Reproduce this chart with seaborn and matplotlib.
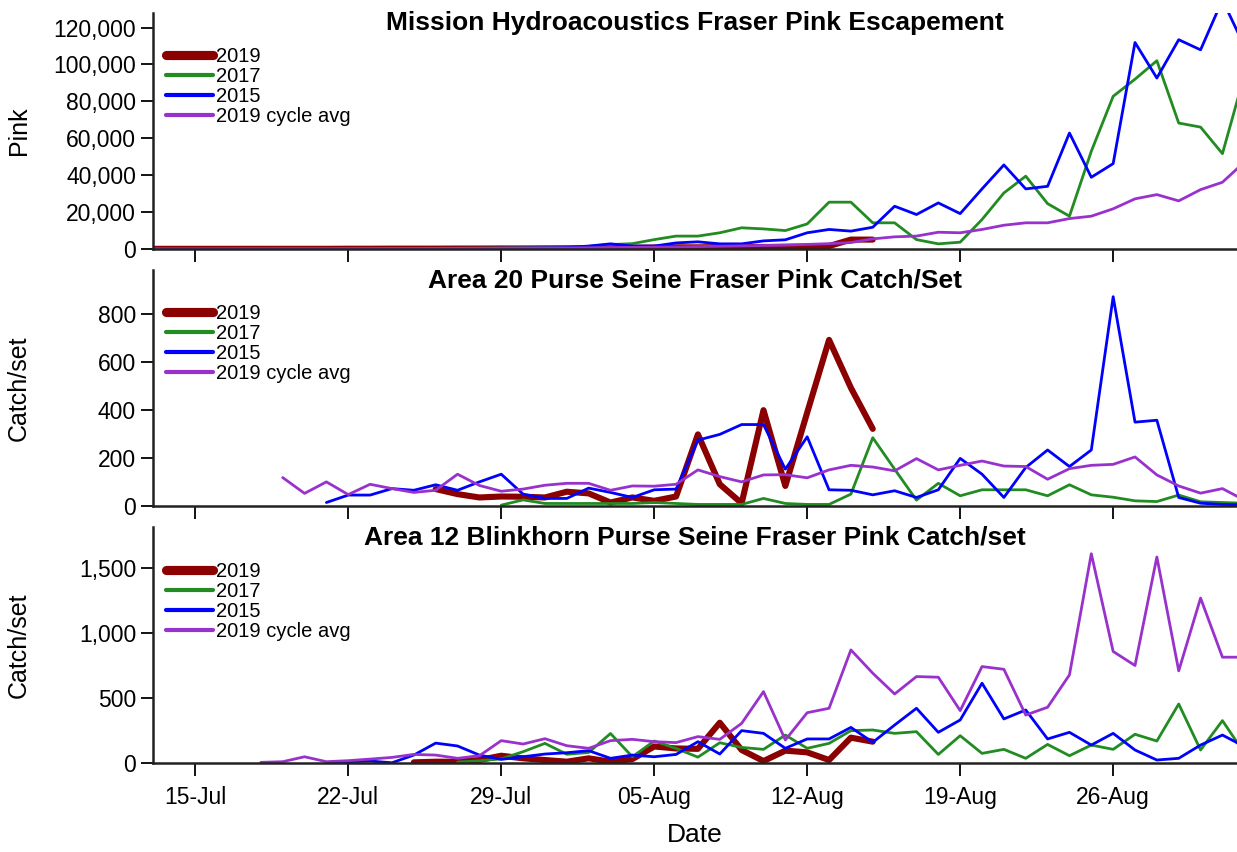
import numpy as np
import pandas as pd
import matplotlib
matplotlib.use("Agg")
import matplotlib.pyplot as plt
import matplotlib.dates as mdates
import matplotlib.ticker as mticker
import seaborn as sns

### Data ###

series_names = ["2019", "2017", "2015", "2019 cycle avg"]
series_colors = ["#8B0000", "#228B22", "#0000FF", "#9932CC"]
series_widths = [4.4, 2.0, 2.0, 2.0]

# Mission hydroacoustics escapement
esc_2019_start = "2019-07-13"
esc_2019 = [0, 0, 0, 0, 0, 0, 0, 0, 0, 50, 50, 100, 100, 100, 150, 150, 200, 200, 250,
            300, 400, 500, 600, 700, 800, 800, 900, 1000, 1000, 1100, 1200, 1500, 5000, 5000]
esc_2017_start = "2019-07-13"
esc_2017 = [0, 0, 0, 0, 0, 0, 0, 0, 50, 50, 100, 100, 150, 200, 250, 300, 400, 500, 600,
            800, 1300, 2300, 2800, 5000, 6900, 6900, 8700, 11400, 10800, 9900, 13500, 25300,
            25300, 14100, 14100, 5000, 2700, 3600, 15900, 30300, 39400, 24500, 17700, 52900,
            82700, 92000, 102000, 68200, 66000, 51600, 94000]
esc_2015_start = "2019-07-13"
esc_2015 = [0, 0, 0, 0, 0, 0, 0, 0, 0, 50, 50, 100, 100, 150, 200, 250, 300, 400, 500,
            700, 1500, 2700, 1500, 1500, 3200, 3800, 2700, 2700, 4300, 4900, 8700, 10500,
            9600, 11700, 23100, 18600, 24900, 19100, 32500, 45500, 32500, 33900, 62800,
            38800, 46200, 111900, 92600, 113400, 107900, 135000, 110000]
esc_avg_start = "2019-07-13"
esc_avg = [0, 0, 0, 0, 50, 50, 100, 100, 100, 150, 150, 200, 200, 250, 300, 300, 350, 400, 450,
           500, 600, 700, 800, 900, 1000, 1200, 1400, 1600, 1800, 2000, 2400, 2800, 3400,
           5400, 6500, 6900, 9000, 8700, 10500, 12800, 14100, 14100, 16400, 17700, 21700,
           27100, 29400, 26000, 32100, 36100, 47000]

# Area 20 purse seine catch/set
a20_2019_start = "2019-07-26"
a20_2019 = [71, 50, 36, 40, 39, 36, 60, 53, 15, 36, 22, 40, 299, 91, 12, 400, 84, 390,
            693, 493, 322]
a20_2017_start = "2019-07-29"
a20_2017 = [4, 26, 11, 11, 11, 11, 11, 15, 11, 7, 7, 7, 32, 11, 7, 7, 50, 285, 154, 25, 95,
            43, 68, 68, 68, 43, 89, 47, 37, 22, 19, 46, 18, 15, 12]
a20_2015_start = "2019-07-21"
a20_2015 = [15, 46, 46, 73, 66, 89, 66, 101, 133, 50, 32, 32, 75, 57, 36, 68, 71, 275, 299,
            340, 340, 154, 289, 68, 66, 47, 64, 36, 68, 199, 133, 36, 161, 234, 165, 234,
            873, 350, 358, 36, 12, 7, 5]
a20_avg_start = "2019-07-19"
a20_avg = [119, 53, 101, 48, 91, 73, 57, 66, 133, 86, 62, 71, 87, 95, 95, 66, 84, 83, 91,
           151, 123, 101, 130, 131, 118, 151, 170, 163, 147, 198, 151, 170, 188, 167, 165,
           112, 156, 170, 174, 205, 130, 84, 54, 73, 25]

# Area 12 Blinkhorn purse seine catch/set
a12_2019_start = "2019-07-25"
a12_2019 = [8, 13, 13, 26, 59, 39, 26, 13, 39, 13, 33, 130, 115, 112, 313, 103, 18, 98, 85,
            26, 198, 167]
a12_2017_start = "2019-07-27"
a12_2017 = [10, 20, 35, 90, 154, 70, 84, 230, 51, 172, 115, 48, 159, 123, 108, 218, 116,
            154, 252, 257, 231, 244, 69, 213, 77, 108, 39, 146, 59, 141, 108, 224, 172, 457,
            103, 329, 80]
a12_2015_start = "2019-07-21"
a12_2015 = [5, 13, 18, 5, 64, 156, 134, 64, 31, 51, 72, 82, 98, 39, 64, 51, 69, 167, 72,
            252, 231, 116, 188, 188, 277, 162, 295, 424, 239, 334, 617, 342, 411, 188, 239,
            141, 231, 103, 26, 39, 141, 218, 130]
a12_avg_start = "2019-07-18"
a12_avg = [8, 13, 51, 13, 21, 33, 46, 69, 64, 39, 59, 175, 149, 190, 136, 116, 175, 185,
           167, 160, 206, 185, 308, 552, 180, 390, 424, 873, 694, 534, 668, 663, 406, 745,
           724, 372, 432, 681, 1613, 861, 753, 1588, 712, 1272, 817, 817]

panel_titles = ["Mission Hydroacoustics Fraser Pink Escapement",
                "Area 20 Purse Seine Fraser Pink Catch/Set",
                "Area 12 Blinkhorn Purse Seine Fraser Pink Catch/set"]
panel_ylabels = ["Pink", "Catch/set", "Catch/set"]
panel_ylims = [(0, 128000), (0, 984), (0, 1816)]
panel_yticks = [np.arange(0, 120001, 20000), np.arange(0, 801, 200), np.arange(0, 1501, 500)]
panel_series = [
    [(esc_2019_start, esc_2019), (esc_2017_start, esc_2017), (esc_2015_start, esc_2015), (esc_avg_start, esc_avg)],
    [(a20_2019_start, a20_2019), (a20_2017_start, a20_2017), (a20_2015_start, a20_2015), (a20_avg_start, a20_avg)],
    [(a12_2019_start, a12_2019), (a12_2017_start, a12_2017), (a12_2015_start, a12_2015), (a12_avg_start, a12_avg)],
]
week_ticks = ["2019-07-15", "2019-07-22", "2019-07-29", "2019-08-05",
              "2019-08-12", "2019-08-19", "2019-08-26"]

### Helpers ###

def to_frame(start, values):
    """Daily series starting at 'start' as a dataframe."""
    return pd.DataFrame({"date": pd.date_range(start, periods=len(values), freq="D"),
                         "value": values})

### Plot ###

sns.set_style("ticks")
plt.rcParams["font.family"] = ["Liberation Sans", "DejaVu Sans"]
plt.rcParams["text.color"] = "black"
plt.rcParams["axes.labelcolor"] = "black"
plt.rcParams["xtick.color"] = "black"
plt.rcParams["ytick.color"] = "black"

fig, axes = plt.subplots(3, 1, figsize=(12.37, 8.52), dpi=100, sharex=True)
fig.subplots_adjust(left=0.124, right=1.0, bottom=0.104, top=0.985, hspace=0.09)

for ax, title, ylab, ylim, yt, series in zip(axes, panel_titles, panel_ylabels, panel_ylims,
                                              panel_yticks, panel_series):
    for (start, vals), name, col, lw in zip(series, series_names, series_colors, series_widths):
        df = to_frame(start, vals)
        sns.lineplot(data=df, x="date", y="value", ax=ax, color=col, linewidth=lw,
                     label=name, solid_capstyle="round", solid_joinstyle="round")
    ax.set_ylim(*ylim)
    ax.set_yticks(yt)
    ax.yaxis.set_major_formatter(mticker.FuncFormatter(lambda v, p: f"{int(v):,}"))
    ax.set_ylabel(ylab, fontsize=18)
    ax.yaxis.set_label_coords(-0.113, 0.5)
    ax.set_xlabel("")
    ax.text(0.5, 1.008, title, transform=ax.transAxes, ha="center", va="top",
            fontsize=19, fontweight="bold")
    leg = ax.legend(loc="upper left", bbox_to_anchor=(0.012, 0.855), frameon=False,
                    fontsize=14.5, handlelength=2.3, handletextpad=0.15, labelspacing=0.05,
                    borderpad=0, borderaxespad=0)
    for h, lw in zip(leg.get_lines(), series_widths):
        h.set_linewidth(lw * 1.5)
    ax.tick_params(axis="both", direction="out", length=9, width=1.3, labelsize=16.5)
    ax.tick_params(axis="x", pad=7)
    sns.despine(ax=ax)
    for sp in ["left", "bottom"]:
        ax.spines[sp].set_linewidth(1.8)
        ax.spines[sp].set_color("#222222")

axes[-1].set_xlim(pd.Timestamp("2019-07-13 02:00"), pd.Timestamp("2019-08-31 16:00"))
axes[-1].set_xticks(pd.to_datetime(week_ticks))
axes[-1].xaxis.set_major_formatter(mdates.DateFormatter("%d-%b"))
axes[-1].set_xlabel("Date", fontsize=19, labelpad=10)

plt.savefig("out.png", dpi=100)
